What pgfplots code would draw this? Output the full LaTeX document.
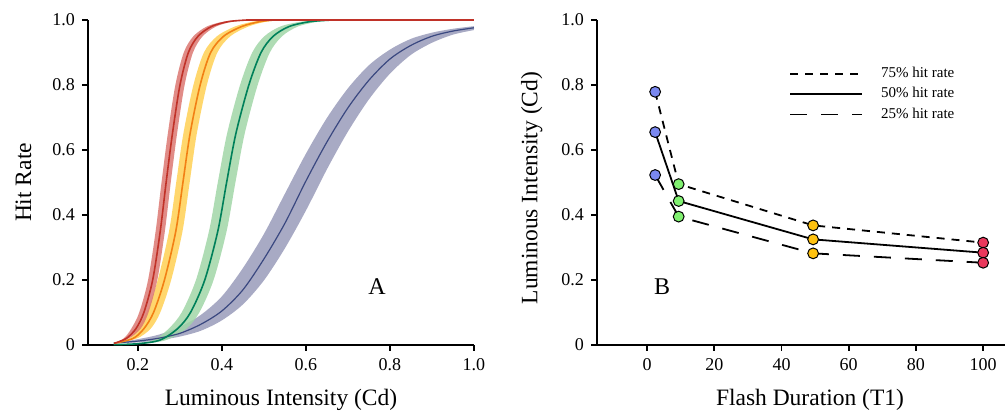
\documentclass[border=0pt]{standalone}
\usepackage{pgfplots}
\pgfplotsset{compat=1.18}
\usepackage{pgfplotstable}
\usepgfplotslibrary{fillbetween}
\usepackage{fontspec}
\setmainfont{Liberation Serif}

\definecolor{redband}{RGB}{220,120,114}
\definecolor{redline}{RGB}{192,50,40}
\definecolor{yelband}{RGB}{255,208,84}
\definecolor{yelline}{RGB}{242,128,20}
\definecolor{grnband}{RGB}{161,214,167}
\definecolor{grnline}{RGB}{0,128,90}
\definecolor{bluband}{RGB}{153,155,186}
\definecolor{bluline}{RGB}{58,72,128}
\definecolor{mblue}{RGB}{122,136,240}
\definecolor{mgreen}{RGB}{128,240,112}
\definecolor{myellow}{RGB}{255,194,16}
\definecolor{mred}{RGB}{234,56,92}

% hit-rate curves: y level, left edge, centre, right edge
\pgfplotstableread{
y xl xc xr
0.005 0.143 0.143 0.143
0.02 0.166 0.172 0.178
0.05 0.184 0.195 0.206
0.1 0.203 0.214 0.225
0.2 0.224 0.235 0.246
0.35 0.242 0.253 0.264
0.5 0.256 0.267 0.278
0.65 0.271 0.282 0.293
0.8 0.289 0.300 0.311
0.9 0.309 0.320 0.331
0.95 0.332 0.343 0.354
0.98 0.364 0.375 0.386
0.995 0.404 0.415 0.426
1.0 0.449 0.460 0.471
}\redtab
\pgfplotstableread{
y xl xc xr
0.005 0.143 0.143 0.143
0.02 0.179 0.188 0.197
0.05 0.198 0.214 0.230
0.1 0.221 0.237 0.253
0.2 0.247 0.263 0.279
0.35 0.274 0.290 0.306
0.5 0.291 0.307 0.323
0.65 0.308 0.324 0.340
0.8 0.332 0.348 0.364
0.9 0.357 0.373 0.389
0.95 0.388 0.404 0.420
0.98 0.431 0.447 0.463
0.995 0.474 0.490 0.506
1.0 0.509 0.525 0.541
}\yeltab
\pgfplotstableread{
y xl xc xr
0.001 0.142 0.142 0.142
0.004 0.191 0.200 0.209
0.015 0.237 0.252 0.267
0.05 0.273 0.294 0.315
0.1 0.304 0.325 0.346
0.2 0.338 0.359 0.380
0.35 0.369 0.390 0.411
0.5 0.390 0.411 0.432
0.65 0.412 0.433 0.454
0.8 0.443 0.464 0.485
0.9 0.472 0.493 0.514
0.95 0.501 0.522 0.543
0.98 0.539 0.560 0.581
0.995 0.589 0.610 0.631
1.0 0.644 0.665 0.686
}\grntab
% blue curve: x, lower edge, centre, upper edge
\pgfplotstableread{
x lo y hi
0.142 0.006 0.006 0.006
0.2 0.008 0.012 0.018
0.25 0.015 0.021 0.032
0.3 0.026 0.036 0.056
0.35 0.044 0.064 0.093
0.4 0.076 0.105 0.150
0.45 0.125 0.170 0.237
0.5 0.199 0.265 0.342
0.55 0.298 0.375 0.466
0.6 0.414 0.505 0.589
0.65 0.541 0.625 0.699
0.7 0.657 0.730 0.790
0.75 0.756 0.815 0.861
0.8 0.835 0.880 0.909
0.85 0.893 0.922 0.942
0.9 0.930 0.950 0.961
0.95 0.955 0.966 0.973
1.0 0.969 0.976 0.981
}\blutab

\pgfplotsset{
  panel/.style={
    scale only axis, height=162.5pt, anchor=south west,
    axis x line=bottom, axis y line=left,
    axis line style={-, line width=0.9pt},
    every tick/.style={black, line width=0.9pt},
    tick align=outside, major tick length=3pt,
    ymin=0, ymax=1,
    ytick={0,0.2,0.4,0.6,0.8,1.0},
    yticklabels={0,0.2,0.4,0.6,0.8,1.0},
    /pgf/number format/assume math mode=true,
    tick label style={font=\fontsize{9}{10}\selectfont},
    label style={font=\fontsize{11.75}{13}\selectfont},
    clip=false,
  },
}

\begin{document}
\begin{tikzpicture}
\begin{axis}[panel, at={(44pt,34.5pt)}, width=193pt,
    xmin=0.081, xmax=1.0,
    xtick={0.2,0.4,0.6,0.8,1.0},
    xticklabels={0.2,0.4,0.6,0.8,1.0},
    xlabel={Luminous Intensity (Cd)},
    ylabel={Hit Rate},
    xlabel style={at={(axis description cs:0.5,-0.17)}, anchor=center},
    ylabel style={at={(axis description cs:-0.167,0.5)}, anchor=center},
  ]
  % bands
  \addplot[draw=none, smooth, name path=bl] table[x=x, y=lo] {\blutab};
  \addplot[draw=none, smooth, name path=bh] table[x=x, y=hi] {\blutab};
  \addplot[bluband, fill opacity=0.85, draw=none] fill between[of=bl and bh];
  \addplot[draw=none, smooth, name path=gl] table[x=xl, y=y] {\grntab};
  \addplot[draw=none, smooth, name path=gr] table[x=xr, y=y] {\grntab};
  \addplot[grnband, fill opacity=0.85, draw=none] fill between[of=gl and gr];
  \addplot[draw=none, smooth, name path=yl] table[x=xl, y=y] {\yeltab};
  \addplot[draw=none, smooth, name path=yr] table[x=xr, y=y] {\yeltab};
  \addplot[yelband, fill opacity=0.85, draw=none] fill between[of=yl and yr];
  \addplot[draw=none, smooth, name path=rl] table[x=xl, y=y] {\redtab};
  \addplot[draw=none, smooth, name path=rr] table[x=xr, y=y] {\redtab};
  \addplot[redband, fill opacity=0.85, draw=none] fill between[of=rl and rr];
  % centre lines
  \addplot[bluline, line width=0.6pt, smooth, no marks] table[x=x, y=y] {\blutab};
  \addplot[grnline, line width=0.8pt, smooth, no marks] table[x=xc, y=y] {\grntab};
  \addplot[yelline, line width=0.8pt, smooth, no marks] table[x=xc, y=y] {\yeltab};
  \addplot[redline, line width=0.8pt, smooth, no marks] table[x=xc, y=y] {\redtab};
  \addplot[redline, line width=0.8pt, no marks] coordinates {(0.46,1.0) (1.0,1.0)};
  \node[font=\fontsize{12}{14}\selectfont] at (axis cs:0.769,0.18) {A};
\end{axis}

\begin{axis}[panel, at={(298.5pt,34.5pt)}, width=204pt,
    xmin=-14.9, xmax=106.5,
    xtick={0,20,40,60,80,100},
    xlabel={Flash Duration (T1)},
    ylabel={Luminous Intensity (Cd)},
    xlabel style={at={(axis description cs:0.522,-0.17)}, anchor=center},
    ylabel style={at={(axis description cs:-0.16,0.483)}, anchor=center},
    legend style={draw=none, fill=none, at={(axis cs:40.4,0.875)}, anchor=north west,
      font=\fontsize{7.5}{9}\selectfont, row sep=1.5pt,
      nodes={inner sep=1pt}},
    legend cell align=left,
    legend image code/.code={\draw[#1] (0pt,0pt) -- (36pt,0pt);},
  ]
  \addplot[black, line width=0.9pt, dash pattern=on 4pt off 3.5pt] coordinates {(2.4,0.779) (9.4,0.495) (49.4,0.368) (100,0.315)};
  \addlegendentry{\hspace{8pt}75\% hit rate}
  \addplot[black, line width=0.9pt] coordinates {(2.4,0.655) (9.4,0.443) (49.4,0.325) (100,0.284)};
  \addlegendentry{\hspace{8pt}50\% hit rate}
  \addplot[black, line width=0.9pt, dash pattern=on 8.5pt off 7pt] coordinates {(2.4,0.523) (9.4,0.395) (49.4,0.282) (100,0.253)};
  \addlegendentry{\hspace{8pt}25\% hit rate}
  \addplot[only marks, mark=*, mark size=2.7pt, mark options={fill=mblue, draw=black, line width=0.5pt}, forget plot] coordinates {(2.4,0.779) (2.4,0.655) (2.4,0.523)};
  \addplot[only marks, mark=*, mark size=2.7pt, mark options={fill=mgreen, draw=black, line width=0.5pt}, forget plot] coordinates {(9.4,0.495) (9.4,0.443) (9.4,0.395)};
  \addplot[only marks, mark=*, mark size=2.7pt, mark options={fill=myellow, draw=black, line width=0.5pt}, forget plot] coordinates {(49.4,0.368) (49.4,0.325) (49.4,0.282)};
  \addplot[only marks, mark=*, mark size=2.7pt, mark options={fill=mred, draw=black, line width=0.5pt}, forget plot] coordinates {(100,0.315) (100,0.284) (100,0.253)};
  \node[font=\fontsize{12}{14}\selectfont] at (axis cs:4.5,0.18) {B};
\end{axis}
\path (0pt,0pt) rectangle (503pt,207pt);
\end{tikzpicture}
\end{document}
